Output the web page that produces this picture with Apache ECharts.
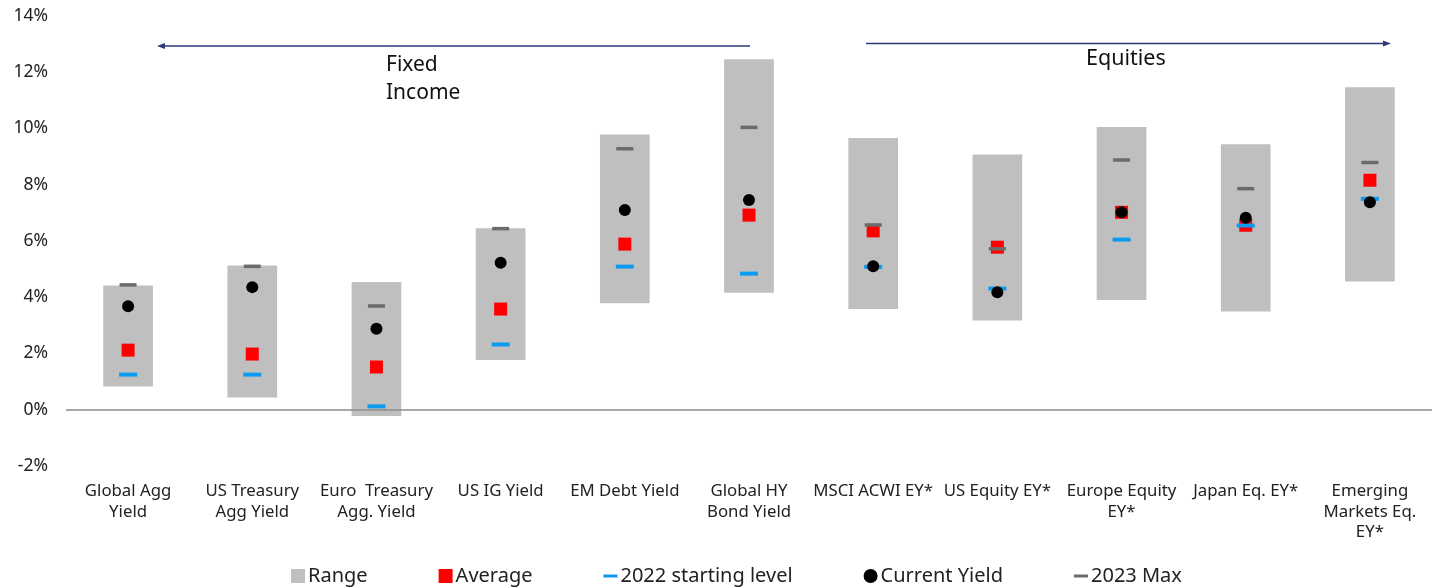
<!DOCTYPE html>
<html>
<head>
<meta charset="utf-8">
<script src="https://cdn.jsdelivr.net/npm/echarts@6/dist/echarts.min.js"></script>
<style>html,body{margin:0;padding:0;background:#fff}#c{width:1439px;height:588px}</style>
</head>
<body>
<div id="c"></div>
<script>
const categories = ["Global Agg\nYield","US Treasury\nAgg Yield","Euro  Treasury\nAgg. Yield","US IG Yield","EM Debt Yield","Global HY\nBond Yield","MSCI ACWI EY*","US Equity EY*","Europe Equity\nEY*","Japan Eq. EY*","Emerging\nMarkets Eq.\nEY*"];
const rangeLow  = [0.83, 0.44, -0.22, 1.77, 3.79, 4.16, 3.58, 3.17, 3.90, 3.49, 4.56];
const rangeHigh = [4.42, 5.13, 4.54, 6.45, 9.79, 12.46, 9.66, 9.08, 10.05, 9.44, 11.47];
const average   = [2.12, 1.98, 1.52, 3.58, 5.89, 6.92, 6.36, 5.78, 7.02, 6.56, 8.16];
const start2022 = [1.25, 1.25, 0.12, 2.32, 5.09, 4.84, 5.08, 4.31, 6.05, 6.55, 7.50];
const current   = [3.68, 4.36, 2.88, 5.23, 7.10, 7.46, 5.10, 4.18, 7.02, 6.83, 7.38];
const max2023   = [4.44, 5.10, 3.69, 6.44, 9.28, 10.04, 6.57, 5.72, 8.88, 7.86, 8.79];
const yTicks = {min: -2, max: 14, interval: 2};

const FONT = '"Noto Sans", sans-serif';
const chart = echarts.init(document.getElementById('c'));
const rangeData = categories.map((c, i) => [i, rangeLow[i], rangeHigh[i]]);

chart.setOption({
  animation: false,
  grid: {left: 66, right: 7, top: 16, bottom: 122},
  legend: {
    bottom: -3, left: 286, itemGap: 71, itemWidth: 14, itemHeight: 14,
    textStyle: {fontFamily: FONT, fontSize: 20, color: '#222', padding: [0, 0, 0, -2]},
    data: [
      {name: 'Range', icon: 'rect'},
      {name: 'Average', icon: 'rect'},
      {name: '2022 starting level', icon: 'path://M0,6h14v3h-14z'},
      {name: 'Current Yield', icon: 'circle'},
      {name: '2023 Max', icon: 'path://M0,6h14v3h-14z'}
    ]
  },
  xAxis: {
    type: 'category', data: categories,
    axisLine: {show: false}, axisTick: {show: false},
    axisLabel: {interval: 0, fontFamily: FONT, fontSize: 16.8, color: '#222', lineHeight: 20.5, margin: 15}
  },
  yAxis: {
    type: 'value', min: yTicks.min, max: yTicks.max, interval: yTicks.interval,
    axisLine: {show: false}, axisTick: {show: false}, splitLine: {show: false},
    axisLabel: {formatter: '{value}%', fontFamily: FONT, fontSize: 17.5, color: '#222', margin: 18}
  },
  series: [
    {
      name: 'Range', type: 'custom', z: 1, itemStyle: {color: '#BFBFBF'},
      encode: {x: 0, y: [1, 2]},
      data: rangeData,
      renderItem: function (params, api) {
        const lo = api.coord([api.value(0), api.value(1)]);
        const hi = api.coord([api.value(0), api.value(2)]);
        const w = api.size([1, 0])[0] * 0.4;
        return {type: 'rect', shape: {x: lo[0] - w / 2, y: hi[1], width: w, height: lo[1] - hi[1]},
          style: {fill: '#BFBFBF'}};
      },
      markLine: {
        silent: true, symbol: 'none', label: {show: false},
        lineStyle: {color: '#8C8C8C', type: 'solid', width: 1.5},
        data: [{yAxis: 0}]
      }
    },
    {name: 'Average', type: 'scatter', z: 3, symbol: 'rect', symbolSize: 13, itemStyle: {color: '#FF0000', opacity: 1}, data: average},
    {name: '2022 starting level', type: 'scatter', z: 4, symbol: 'rect', symbolSize: [18, 4], itemStyle: {color: '#0A9BF0', opacity: 1}, data: start2022},
    {name: '2023 Max', type: 'scatter', z: 5, symbol: 'rect', symbolSize: [17, 3.5], itemStyle: {color: '#6B6B6B', opacity: 1}, data: max2023},
    {name: 'Current Yield', type: 'scatter', z: 6, symbol: 'circle', symbolSize: 12, itemStyle: {color: '#000000', opacity: 1}, data: current}
  ],
  graphic: [
    {type: 'polyline', shape: {points: [[164, 46], [750, 46]]}, style: {stroke: '#2E3A78', lineWidth: 1.3}},
    {type: 'polygon', shape: {points: [[157, 46], [165, 43], [165, 49]]}, style: {fill: '#2E3A78'}},
    {type: 'polyline', shape: {points: [[866, 43.5], [1383, 43.5]]}, style: {stroke: '#2E3A78', lineWidth: 1.3}},
    {type: 'polygon', shape: {points: [[1391, 43.5], [1383, 40.5], [1383, 46.5]]}, style: {fill: '#2E3A78'}},
    {type: 'text', left: 386, top: 51, style: {text: 'Fixed\nIncome', font: '21px ' + FONT, fill: '#111', lineHeight: 28}},
    {type: 'text', left: 1086, top: 48, style: {text: 'Equities', font: '21.5px ' + FONT, fill: '#111'}}
  ]
});
</script>
</body>
</html>
